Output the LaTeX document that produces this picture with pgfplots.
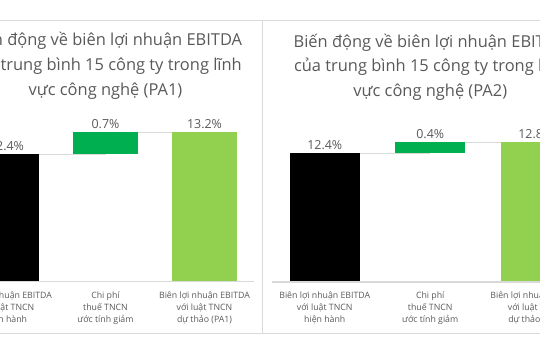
\documentclass[border=0pt]{standalone}
\usepackage{fontspec}
\setmainfont{Open Sans}
\usepackage{pgfplots}
\pgfplotsset{compat=1.18}
\definecolor{xgreen}{HTML}{00B050}
\definecolor{lgreen}{HTML}{92D050}
\definecolor{txtgray}{HTML}{595959}
\definecolor{linegray}{HTML}{D9D9D9}
\pgfplotsset{
  wf/.style={
    scale only axis,
    xmin=-0.5, xmax=2.5,
    axis y line=none, axis x line*=bottom,
    x axis line style={draw=linegray, line width=1.2bp, -},
    axis on top,
    xtick={0,1,2}, xtick style={draw=none},
    xticklabel style={align=center, font=\fontsize{8.8}{12}\selectfont, text=txtgray, yshift=-6.5bp},
    title style={at={(0.5,1)}, anchor=north, yshift=72.8bp, align=center, font=\fontsize{16.5}{25}\selectfont, text=txtgray},
  },
  bar/.style={ybar, bar shift=0pt, draw=none},
  lbl/.style={nodes near coords, point meta=explicit symbolic,
    every node near coord/.style={font=\fontsize{12.5}{14}\selectfont, text=txtgray, anchor=south}},
  conn/.style={sharp plot, draw=linegray, line width=1bp, mark=none, forget plot},
}
\begin{document}
\begin{tikzpicture}[x=1bp,y=1bp]
\useasboundingbox (0,0) rectangle (540,360);
\begin{scope}
\clip (0,0) rectangle (540,360);
% Left chart (PA1)
\begin{axis}[wf,
  at={(-43bp,78.5bp)}, anchor=south west, width=297bp, height=174bp,
  ymin=8.2, ymax=14, bar width=65bp,
  xticklabels={{Biên lợi nhuận EBITDA\\với luật TNCN\\hiện hành},{Chi phí\\thuế TNCN\\ước tính giảm},{Biên lợi nhuận EBITDA\\với luật TNCN\\dự thảo (PA1)}},
  title={Biến động về biên lợi nhuận EBITDA\\của trung bình 15 công ty trong lĩnh\\vực công nghệ (PA1)},
]
\addplot[conn] coordinates {(0,12.45) (1,12.45)};
\addplot[conn] coordinates {(1,13.17) (2,13.17)};
\addplot[bar, fill=black, lbl] coordinates {(0,12.45)[12.4\%]};
\addplot[fill=xgreen, draw=none] coordinates {(0.6717,12.45) (1.3283,12.45) (1.3283,13.17) (0.6717,13.17)} -- cycle;
\addplot[draw=none, mark=none, lbl] coordinates {(1,13.17)[0.7\%]};
\addplot[bar, fill=lgreen, lbl] coordinates {(2,13.17)[13.2\%]};
\end{axis}
% Right chart (PA2)
\begin{axis}[wf,
  at={(272bp,78bp)}, anchor=south west, width=316.5bp, height=173bp,
  ymin=7.71, ymax=14, bar width=70bp,
  xticklabels={{Biên lợi nhuận EBITDA\\với luật TNCN\\hiện hành},{Chi phí\\thuế TNCN\\ước tính giảm},{Biên lợi nhuận EBITDA\\với luật TNCN\\dự thảo (PA2)}},
  title={Biến động về biên lợi nhuận EBITDA\\của trung bình 15 công ty trong lĩnh\\vực công nghệ (PA2)},
]
\addplot[conn] coordinates {(0,12.4) (1,12.4)};
\addplot[conn] coordinates {(1,12.8) (2,12.8)};
\addplot[bar, fill=black, lbl] coordinates {(0,12.4)[12.4\%]};
\addplot[fill=xgreen, draw=none] coordinates {(0.6684,12.4) (1.3316,12.4) (1.3316,12.8) (0.6684,12.8)} -- cycle;
\addplot[draw=none, mark=none, lbl] coordinates {(1,12.8)[0.4\%]};
\addplot[bar, fill=lgreen, lbl] coordinates {(2,12.8)[12.8\%]};
\end{axis}
\draw[linegray, line width=1bp] (0,339.5) -- (540,339.5);
\draw[linegray, line width=1bp] (0,27) -- (540,27);
\draw[linegray, line width=1bp] (262.5,27) -- (262.5,339.5);
\end{scope}
\end{tikzpicture}
\end{document}
